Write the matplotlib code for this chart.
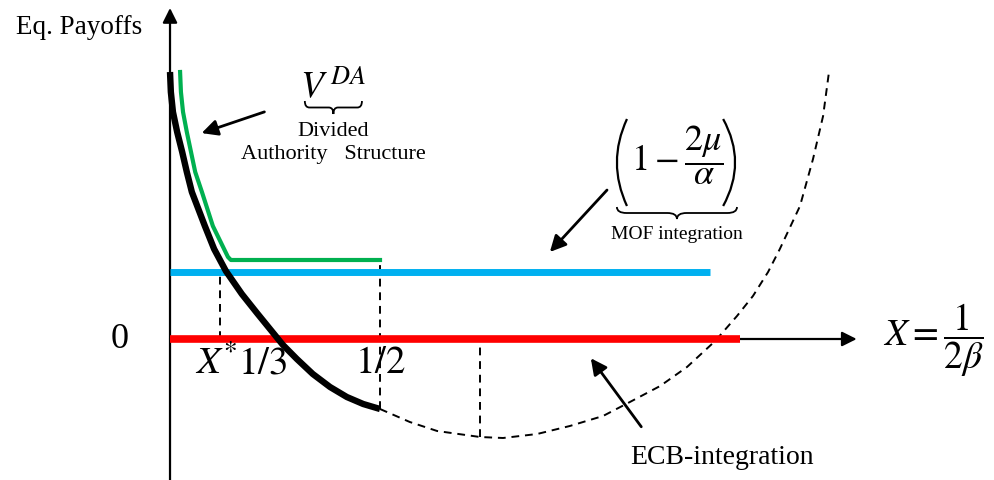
import matplotlib
matplotlib.use("Agg")
import matplotlib.pyplot as plt
from matplotlib.path import Path
from matplotlib.patches import PathPatch

plt.rcParams['font.family'] = ['Liberation Serif', 'DejaVu Serif']
plt.rcParams['mathtext.fontset'] = 'stix'

# black curve: equilibrium payoff (solid part, up to X = 1/2)
black_x = [0.000, 0.002, 0.007, 0.017, 0.029, 0.040, 0.052, 0.083, 0.105, 0.133,
           0.171, 0.207, 0.238, 0.269, 0.302, 0.340, 0.381, 0.421, 0.460, 0.500]
black_y = [2.67, 2.47, 2.27, 2.07, 1.87, 1.67, 1.47, 1.13, 0.90, 0.68,
           0.45, 0.26, 0.10, -0.06, -0.20, -0.35, -0.48, -0.58, -0.65, -0.70]

# dashed continuation of the curve
dash_x = [0.500, 0.571, 0.636, 0.738, 0.793, 0.874, 0.952, 1.031, 1.095, 1.167,
          1.231, 1.298, 1.350, 1.388, 1.424, 1.452, 1.500, 1.531, 1.555, 1.569]
dash_y = [-0.70, -0.83, -0.92, -0.98, -0.99, -0.95, -0.87, -0.77, -0.63, -0.47,
          -0.28, -0.02, 0.23, 0.43, 0.67, 0.90, 1.33, 1.80, 2.23, 2.67]

# green: divided authority structure
green_x = [0.024, 0.026, 0.031, 0.040, 0.050, 0.060, 0.076, 0.102, 0.138, 0.145, 0.500]
green_y = [2.67, 2.47, 2.27, 2.07, 1.87, 1.67, 1.47, 1.13, 0.82, 0.79, 0.79]

# blue: MOF integration level, red: ECB integration level
mof_level = 0.67
mof_end = 1.286
ecb_level = 0.0
ecb_end = 1.357

x_star = 0.119
x_half = 0.5
x_min = 0.738
y_min = -0.98


def brace(ax, x0, x1, ytop, h):
    # horizontal under-brace, opening upwards
    xm = (x0 + x1) / 2
    d = (x1 - x0) * 0.08
    yh = ytop - h / 2
    verts = [(x0, ytop), (x0, yh), (x0 + d, yh),
             (xm - d, yh),
             (xm, yh), (xm, ytop - h),
             (xm, yh), (xm + d, yh),
             (x1 - d, yh),
             (x1, yh), (x1, ytop)]
    codes = [Path.MOVETO, Path.CURVE3, Path.CURVE3,
             Path.LINETO,
             Path.CURVE3, Path.CURVE3,
             Path.CURVE3, Path.CURVE3,
             Path.LINETO,
             Path.CURVE3, Path.CURVE3]
    ax.add_patch(PathPatch(Path(verts, codes), fill=False, lw=1.3, color='black'))


def paren(ax, xtip, xmid, ytop, ybot):
    # tall thin bracket drawn as a quadratic curve
    verts = [(xtip, ytop), (xmid, (ytop + ybot) / 2), (xtip, ybot)]
    codes = [Path.MOVETO, Path.CURVE3, Path.CURVE3]
    ax.add_patch(PathPatch(Path(verts, codes), fill=False, lw=1.6, color='black'))


fig = plt.figure(figsize=(9.95, 4.81), dpi=100)
ax = fig.add_axes([0, 0, 1, 1])
ax.set_xlim(-0.4048, 1.9643)
ax.set_ylim(-1.41, 3.40)
ax.axis('off')

# axes with arrows (under the coloured lines)
ax.annotate('', xy=(0, 3.31), xytext=(0, -1.41), zorder=1,
            arrowprops=dict(arrowstyle='-|>', color='black', lw=1.6,
                            mutation_scale=22, shrinkA=0, shrinkB=0))
ax.annotate('', xy=(1.635, 0), xytext=(0, 0), zorder=1,
            arrowprops=dict(arrowstyle='-|>', color='black', lw=1.6,
                            mutation_scale=22, shrinkA=0, shrinkB=0))

# dashed guides
dash_kw = dict(color='black', ls='--', lw=1.4, dashes=(4, 3), zorder=2)
ax.plot([x_star, x_star], [0, mof_level], **dash_kw)
ax.plot([x_half, x_half], [black_y[-1], green_y[-1]], **dash_kw)
ax.plot([x_min, x_min], [y_min, 0], **dash_kw)
ax.plot(dash_x, dash_y, **dash_kw)

ax.plot([0, ecb_end], [ecb_level, ecb_level], color='#ff0000', lw=5.5,
        solid_capstyle='butt', zorder=3)
ax.plot([0, mof_end], [mof_level, mof_level], color='#00b0f0', lw=5.0,
        solid_capstyle='butt', zorder=3)
ax.plot(green_x, green_y, color='#00b050', lw=3.0, solid_joinstyle='round', zorder=4)
ax.plot(black_x, black_y, color='black', lw=4.6, solid_capstyle='butt',
        solid_joinstyle='round', zorder=5)

# labels
ax.text(-0.067, 3.12, 'Eq. Payoffs', fontsize=19.5, ha='right', va='center')
ax.text(-0.119, 0.0, '0', fontsize=26, ha='center', va='center')
ax.text(0.110, -0.24, r'$X^{*}$', fontsize=28, ha='center', va='center')
ax.text(0.221, -0.24, r'$\mathrm{1/3}$', fontsize=28, ha='center', va='center')
ax.text(0.500, -0.24, r'$\mathrm{1/2}$', fontsize=28, ha='center', va='center')
ax.text(1.698, 0.0, r'$X=\dfrac{1}{2\beta}$', fontsize=27, ha='left', va='center')

ax.text(0.388, 2.52, r'$V^{\,DA}$', fontsize=27, ha='center', va='center')
brace(ax, 0.321, 0.457, 2.38, 0.13)
ax.text(0.388, 2.08, 'Divided', fontsize=16, ha='center', va='center')
ax.text(0.388, 1.85, 'Authority   Structure', fontsize=16, ha='center', va='center')
ax.annotate('', xy=(0.069, 2.05), xytext=(0.231, 2.28),
            arrowprops=dict(arrowstyle='-|>', color='black', lw=2.0, mutation_scale=24))

# MOF expression with tall parentheses
ax.text(1.207, 1.85, r'$1-\dfrac{2\mu}{\alpha}$', fontsize=26, ha='center', va='center')
paren(ax, 1.088, 1.040, 2.20, 1.33)
paren(ax, 1.317, 1.374, 2.20, 1.33)
brace(ax, 1.064, 1.350, 1.32, 0.12)
ax.text(1.207, 1.05, 'MOF integration', fontsize=14, ha='center', va='center')
ax.annotate('', xy=(0.900, 0.85), xytext=(1.045, 1.51),
            arrowprops=dict(arrowstyle='-|>', color='black', lw=2.0, mutation_scale=24))

ax.text(1.314, -1.18, 'ECB-integration', fontsize=20, ha='center', va='center')
ax.annotate('', xy=(0.998, -0.17), xytext=(1.126, -0.90),
            arrowprops=dict(arrowstyle='-|>', color='black', lw=2.0, mutation_scale=24))

fig.savefig('out.png', dpi=100)
